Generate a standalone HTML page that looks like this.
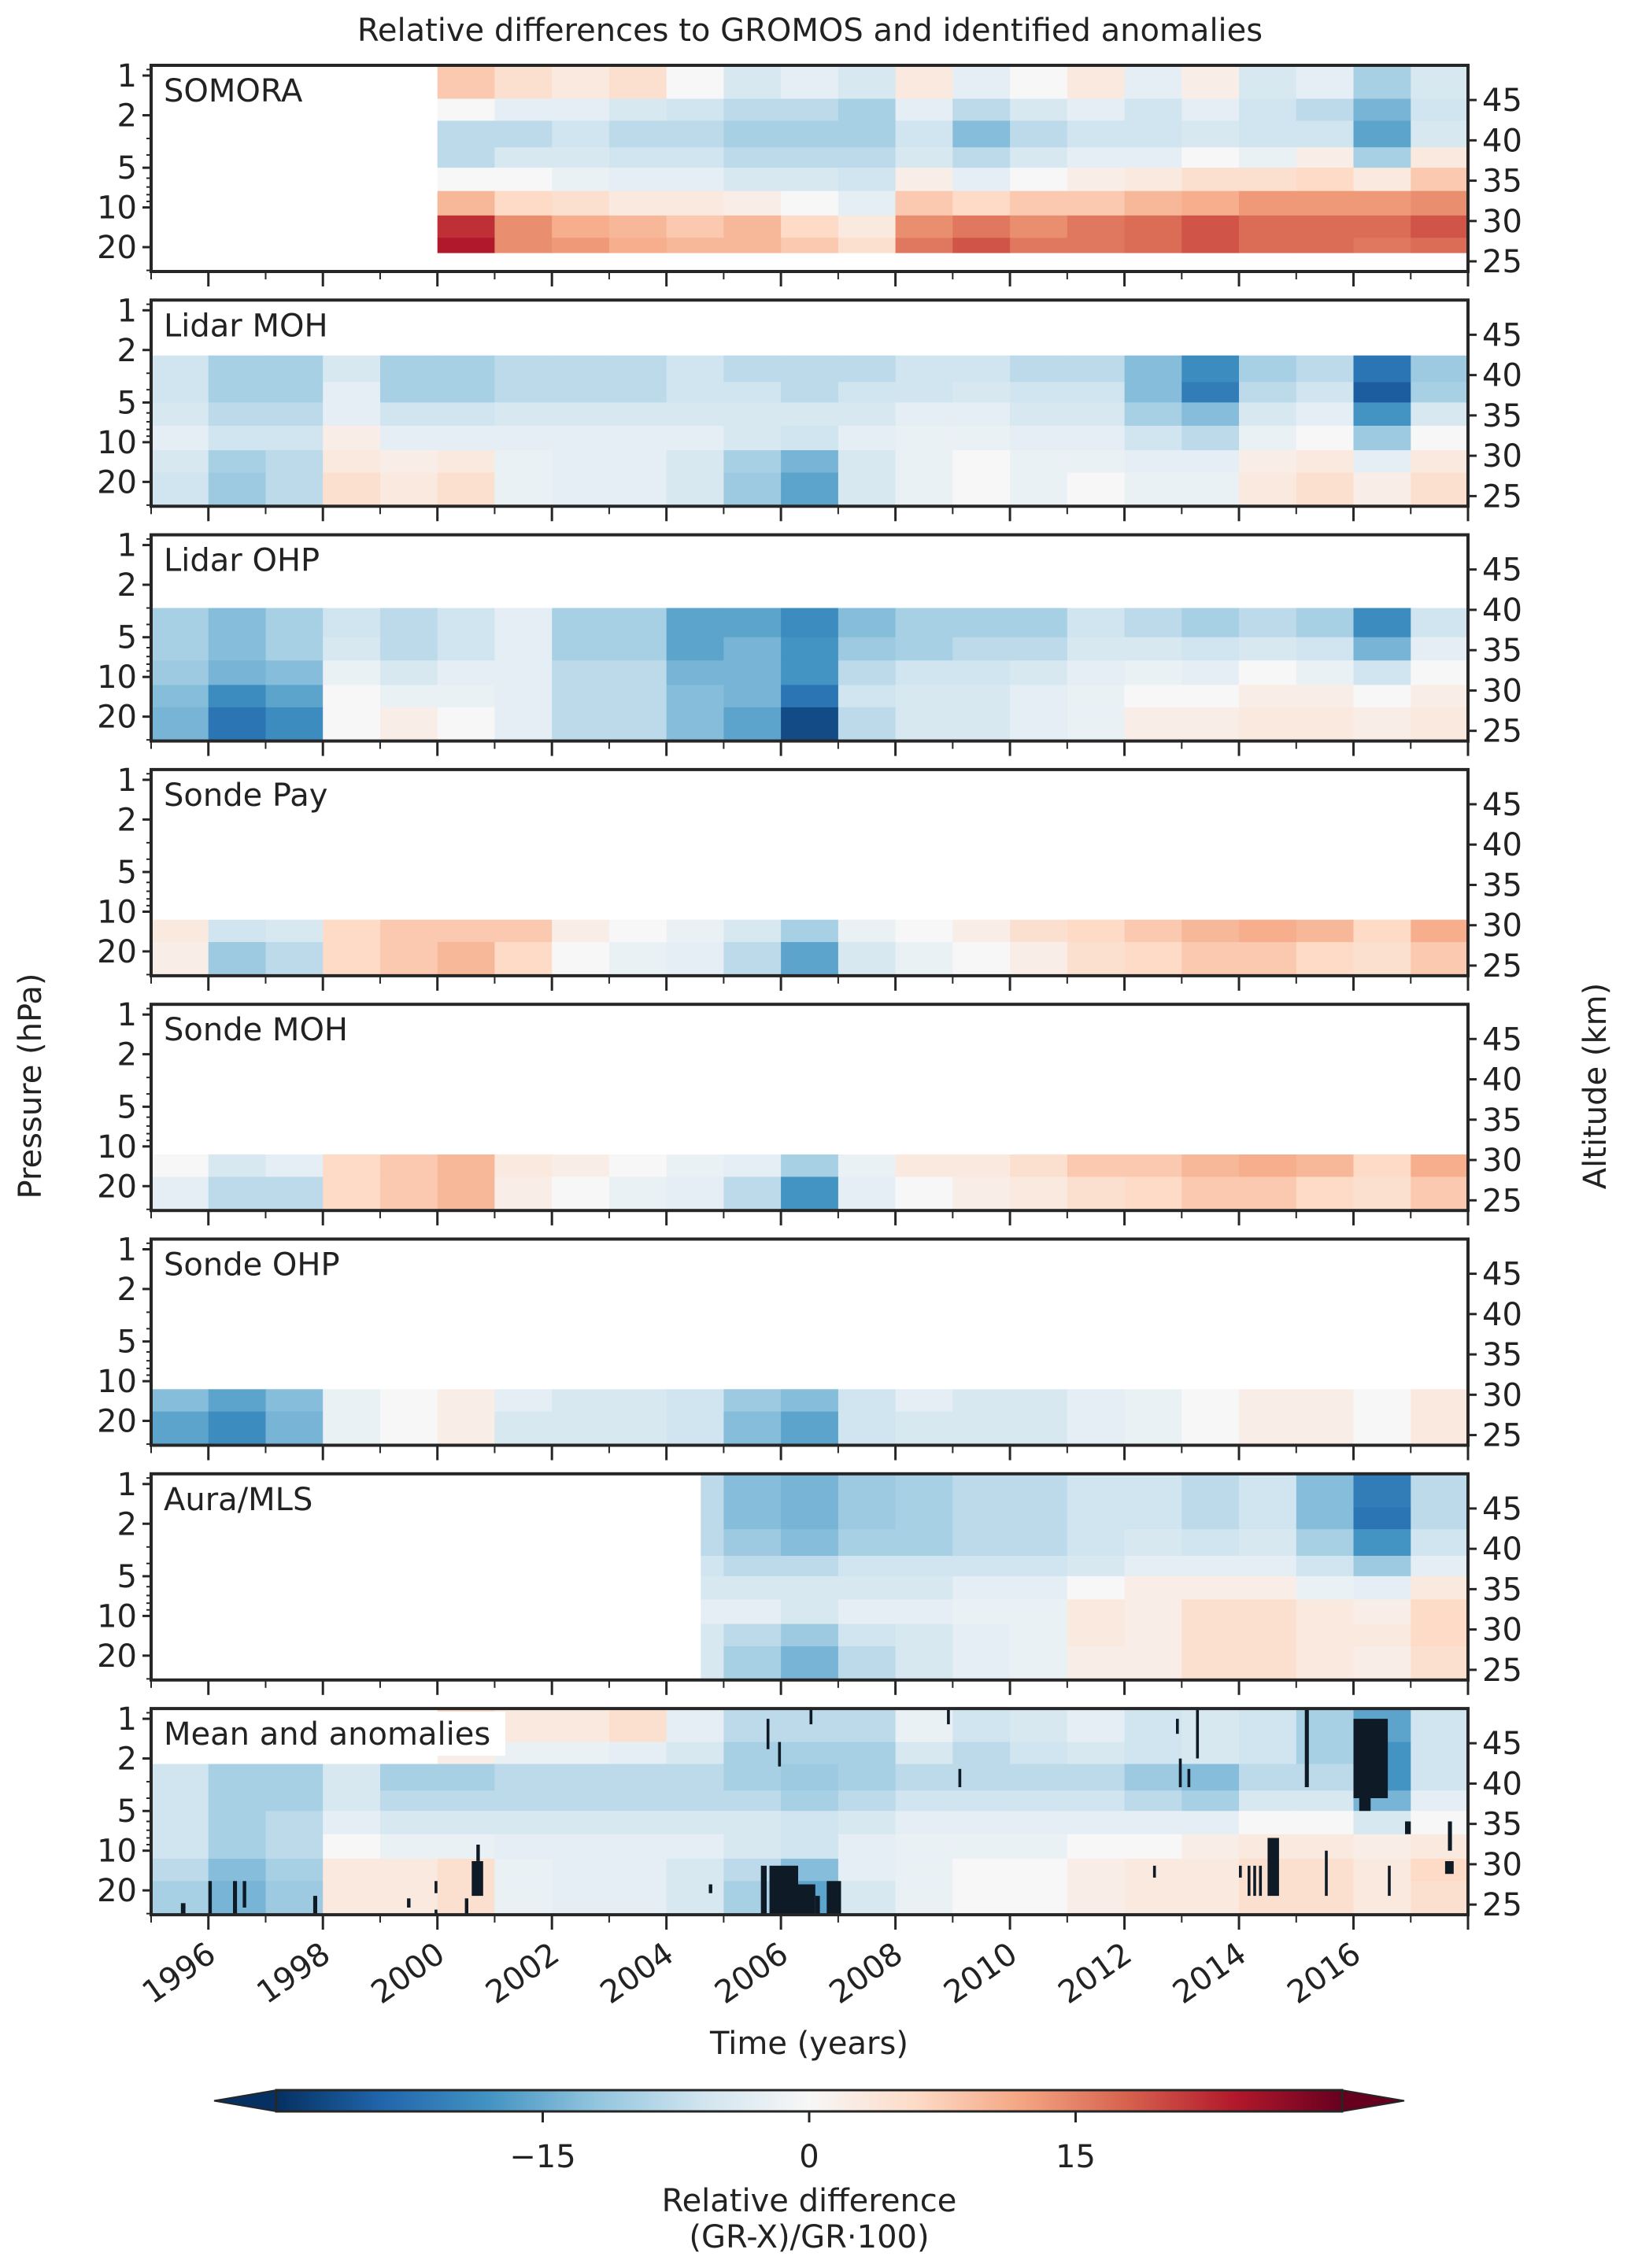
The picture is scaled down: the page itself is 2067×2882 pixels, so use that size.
<!DOCTYPE html>
<html><head><meta charset="utf-8">
<style>
html,body{margin:0;padding:0;background:#fff;}
svg{display:block;font-family:"DejaVu Sans","Liberation Sans",sans-serif;}
</style></head>
<body>
<svg id="fig" width="2067" height="2882" viewBox="0 0 2067 2882" xmlns="http://www.w3.org/2000/svg">
<text x="1029" y="52" font-size="40" text-anchor="middle" fill="#222">Relative differences to GROMOS and identified anomalies</text>
<text transform="translate(52,1380) rotate(-90)" font-size="40" text-anchor="middle" fill="#222">Pressure (hPa)</text>
<text transform="translate(2040,1380) rotate(-90)" font-size="40" text-anchor="middle" fill="#222">Altitude (km)</text>
<text x="1028" y="2610" font-size="40" text-anchor="middle" fill="#222">Time (years)</text>
<g id="panels"></g>
<g id="cbar"></g>
</svg>
<script>
// ---- data ----
const years = [1995,1996,1997,1998,1999,2000,2001,2002,2003,2004,2005,2006,2007,2008,2009,2010,2011,2012,2013,2014,2015,2016,2017];
const panelNames = ["SOMORA","Lidar MOH","Lidar OHP","Sonde Pay","Sonde MOH","Sonde OHP","Aura/MLS","Mean and anomalies"];
const yTickP = [1,2,5,10,20];
const yMinorP = [0.9,3,4,6,7,8,9,30];
const altTicks = [25,30,35,40,45];
const yearTicks = [1996,1998,2000,2002,2004,2006,2008,2010,2012,2014,2016];
const cbarTicks = [-15,0,15];

const somoraEdges = [0.84,1.5,2.2,3.5,5,7.5,11.5,17,22];
const somoraStart = 2000;
const somora = [
[8,5,3,5,0,-5,-3,-5,3,-3,0,3,-3,2,-5,-3,-10,-5],
[0,-3,-3,-5,-6,-8,-8,-10,-3,-8,-5,-3,-6,-3,-6,-8,-14,-6],
[-8,-8,-6,-8,-8,-10,-10,-10,-6,-13,-8,-6,-6,-5,-6,-6,-16,-5],
[-8,-5,-5,-6,-6,-8,-8,-8,-5,-8,-5,-3,-3,0,-2,2,-10,3],
[0,0,-2,-3,-3,-5,-5,-6,2,-3,0,2,3,5,5,6,3,8],
[10,6,5,3,3,2,0,-3,8,6,8,8,10,11,13,13,13,14],
[22,14,11,10,8,10,6,3,14,16,14,16,17,19,17,17,17,19],
[24,14,13,11,10,10,8,5,16,19,16,16,17,19,17,17,16,17]];

const lidarMohEdges = [2.2,3.5,5,7.5,11.5,17,30];
const lidarMoh = [
[-6,-10,-10,-5,-10,-10,-8,-8,-8,-6,-8,-8,-8,-6,-6,-8,-8,-13,-19,-10,-8,-22,-11],
[-6,-10,-10,-3,-10,-10,-8,-8,-8,-6,-6,-8,-6,-6,-5,-6,-6,-13,-21,-8,-6,-25,-10],
[-5,-8,-8,-3,-6,-6,-5,-5,-5,-5,-5,-5,-5,-3,-3,-5,-5,-10,-13,-5,-3,-18,-5],
[-3,-6,-6,2,-3,-3,-3,-3,-3,-3,-5,-6,-3,-2,-2,-3,-3,-6,-8,-2,0,-11,0],
[-5,-10,-8,3,2,3,-2,-3,-3,-5,-10,-14,-5,-2,0,-2,-2,-3,-3,2,3,-3,3],
[-6,-11,-8,5,3,5,-2,-3,-3,-5,-11,-16,-5,-2,0,-2,0,-2,-2,3,5,2,5]];

const lidarOhpEdges = [3,5,7.5,11.5,17,30];
const lidarOhp = [
[-10,-13,-10,-6,-8,-6,-3,-10,-10,-16,-16,-19,-13,-10,-10,-10,-6,-8,-10,-8,-10,-19,-6],
[-10,-13,-10,-5,-8,-6,-3,-10,-10,-16,-14,-18,-11,-10,-8,-8,-5,-5,-6,-5,-6,-14,-3],
[-11,-14,-13,-2,-5,-3,-3,-8,-8,-14,-14,-18,-8,-6,-6,-5,-3,-2,-3,0,-2,-6,0],
[-13,-19,-16,0,-2,-2,-3,-8,-8,-13,-14,-22,-6,-5,-5,-3,-2,0,0,2,2,0,2],
[-14,-22,-19,0,2,0,-3,-8,-8,-13,-16,-27,-8,-5,-5,-3,-2,2,2,3,3,2,3]];

const sondeEdges = [11.5,17,30];
const sondePay = [
[3,-6,-5,6,8,8,8,2,0,-2,-5,-10,-2,0,2,5,6,8,10,11,10,6,11],
[2,-11,-8,6,8,10,6,0,-2,-3,-8,-16,-5,-2,0,2,5,6,8,8,6,5,8]];
const sondeMoh = [
[0,-5,-3,6,8,10,3,2,0,-2,-3,-10,-2,3,3,5,8,8,10,11,10,6,11],
[-3,-8,-8,6,8,10,2,0,-2,-3,-8,-18,-3,0,2,3,5,6,8,8,6,5,8]];
const sondeOhp = [
[-13,-16,-13,-2,0,2,-3,-5,-5,-6,-11,-13,-6,-3,-5,-5,-3,-2,0,2,2,0,3],
[-16,-19,-14,-2,0,2,-5,-5,-5,-6,-13,-16,-6,-5,-5,-5,-3,-2,0,2,2,0,3]];

const fullEdges = [0.84,1.5,2.2,3.5,5,7.5,11.5,17,30];
const mlsStart = 2004.6;
const mls = [
[-8,-13,-14,-11,-10,-8,-8,-6,-6,-8,-6,-13,-21,-8],
[-8,-13,-14,-11,-10,-8,-8,-6,-6,-8,-6,-13,-22,-8],
[-8,-11,-13,-10,-10,-8,-8,-6,-5,-6,-5,-10,-18,-6],
[-6,-8,-8,-6,-6,-6,-6,-5,-3,-3,-3,-6,-11,-3],
[-5,-5,-5,-5,-5,-3,-3,0,2,2,2,-2,-3,3],
[-3,-3,-5,-3,-3,-2,-2,3,2,5,5,3,2,6],
[-5,-8,-11,-6,-5,-3,-2,3,2,5,5,3,3,6],
[-5,-10,-14,-8,-5,-3,-2,2,2,5,5,3,2,5]];

const meanTop = [
[6,3,3,5,-3,-8,-8,-8,-2,-6,-5,-3,-6,-5,-6,-10,-16,-6],
[2,-2,-2,-3,-5,-10,-10,-10,-5,-8,-6,-5,-6,-5,-6,-10,-18,-6]];
const meanLow = [
[-6,-10,-10,-5,-10,-10,-8,-8,-8,-8,-10,-11,-10,-8,-8,-8,-8,-11,-13,-8,-8,-18,-6],
[-6,-10,-10,-5,-8,-8,-8,-8,-8,-8,-8,-10,-8,-6,-6,-6,-6,-8,-10,-5,-5,-14,-3],
[-6,-10,-8,-3,-5,-5,-5,-5,-5,-5,-5,-6,-5,-3,-3,-3,-3,-3,-3,0,0,-5,0],
[-6,-10,-8,0,-2,-2,-3,-3,-3,-3,-5,-6,-3,-2,-2,-2,0,0,2,3,3,2,3],
[-8,-13,-10,3,3,5,-2,-3,-3,-5,-8,-13,-3,-2,0,0,2,3,3,5,5,3,6],
[-10,-14,-11,3,3,5,-2,-3,-3,-5,-10,-16,-5,-2,0,0,2,3,3,5,5,3,5]];

const anomalyT0 = [1995.52,1996.0,1996.43,1996.6,1997.83,1999.47,1999.95,1999.95,2000.48,2000.6,2000.68,2004.74,2005.65,2005.8,2006.3,2006.6,2006.8,2005.75,2005.95,2006.5,2008.9,2009.1,2012.9,2012.95,2013.1,2013.25,2015.15,2016.0,2016.1,2016.9,2017.65,2017.6,2012.5,2014.0,2014.15,2014.25,2014.35,2014.5,2015.5,2016.6];
const anomalyT1 = [1995.6,1996.06,1996.5,1996.66,1997.9,1999.53,2000.0,2000.0,2000.54,2000.8,2000.74,2004.8,2005.75,2006.3,2006.6,2006.68,2007.05,2005.8,2006.0,2006.55,2008.95,2009.15,2012.95,2013.0,2013.15,2013.3,2015.22,2016.6,2016.3,2017.0,2017.72,2017.75,2012.55,2014.05,2014.2,2014.3,2014.4,2014.7,2015.55,2016.65];
const anomalyPTop = [25,17,17,17,22,23,17,28,23,12,9,18,13,13,18,22,17,1.0,1.5,0.85,0.85,2.4,1.0,2.0,2.4,0.84,0.84,1.0,4,6,6,12,13,13,13,13,13,8,10,13];
const anomalyPBot = [30,30,30,27,30,27,21,30,30,22,12,21,30,30,30,30,30,1.7,2.3,1.1,1.1,3.3,1.3,3.3,3.3,2.0,3.3,4.0,5,7.5,10,15,16,16,22,22,22,22,22,22];

// ---- layout ----
const X0=192, X1=1865, T0=1995, T1=2018;
const PTOP=83, PSTEP=298.3, PH=262;
const NS="http://www.w3.org/2000/svg";
function xs(t){return X0+(t-T0)/(T1-T0)*(X1-X0);}
function ys(top,p){return top+13+Math.log10(p)*167.6;}
function ya(top,km){return top+(49.3-km)*10.25;}
const cm=['#053061','#2166ac','#4393c3','#92c5de','#d1e5f0','#f7f7f7','#fddbc7','#f4a582','#d6604d','#b2182b','#67001f'];
function hex(h){return [1,3,5].map(i=>parseInt(h.substr(i,2),16));}
function color(v){let t=Math.max(0,Math.min(1,(v+30)/60))*10;let i=Math.min(9,Math.floor(t));let f=t-i;
 let a=hex(cm[i]),b=hex(cm[i+1]);return 'rgb('+a.map((c,k)=>Math.round(c+(b[k]-c)*f)).join(',')+')';}
function el(tag,attrs,parent){const e=document.createElementNS(NS,tag);for(const k in attrs)e.setAttribute(k,attrs[k]);parent.appendChild(e);return e;}

const root=document.getElementById('panels');
function drawGrid(g,top,edges,rows,startYear,clipStart){
  rows.forEach((row,r)=>{
    row.forEach((v,c)=>{
      if(v===null)return;
      let t0=startYear+c,t1=t0+1;
      if(clipStart!==undefined)t0=Math.max(t0,clipStart);
      t1=Math.min(t1,T1);
      const y0=ys(top,edges[r]),y1=ys(top,edges[r+1]);
      const rc=el('rect',{x:xs(t0).toFixed(1),y:y0.toFixed(1),width:(xs(t1)-xs(t0)+0.6).toFixed(1),height:(y1-y0+0.6).toFixed(1),fill:color(v)},g);
      
      
    });
  });
}
const panelData=[
 [[somoraEdges,somora,somoraStart]],
 [[lidarMohEdges,lidarMoh,1995]],
 [[lidarOhpEdges,lidarOhp,1995]],
 [[sondeEdges,sondePay,1995]],
 [[sondeEdges,sondeMoh,1995]],
 [[sondeEdges,sondeOhp,1995]],
 [[fullEdges,mls,2004,mlsStart]],
 [[fullEdges.slice(0,3),meanTop,2000],[fullEdges.slice(2),meanLow,1995]]
];
panelNames.forEach((name,i)=>{
  const top=PTOP+i*PSTEP, bot=top+PH;
  const g=el('g',{},root);
  
  
  const cid='clip'+i;
  const cp=el('clipPath',{id:cid},g);
  el('rect',{x:X0,y:top,width:X1-X0,height:PH},cp);
  const hg=el('g',{'clip-path':'url(#'+cid+')'},g);
  panelData[i].forEach(d=>drawGrid(hg,top,d[0],d[1],d[2],d[3]));
  if(i===7){
    anomalyT0.forEach((t0,k)=>{
      const y0=ys(top,anomalyPTop[k]),y1=ys(top,anomalyPBot[k]);
      const a=el('rect',{x:xs(t0).toFixed(1),y:y0.toFixed(1),width:Math.max(3,xs(anomalyT1[k])-xs(t0)).toFixed(1),height:(y1-y0).toFixed(1),fill:'#0e1a26'},hg);
      
      
    });
  }
  // label
  const lw=name.length*24+14;
  if(i===0||i===7){el('rect',{x:X0+4,y:top+4,width:lw,height:56,fill:'#fff'},g);}
  const lt=el('text',{x:X0+16,y:top+46,'font-size':40,fill:'#222'},g);
  lt.textContent=name;
  
  
  // frame
  el('rect',{x:X0,y:top,width:X1-X0,height:PH,fill:'none',stroke:'#262626','stroke-width':4},g);
  // left ticks
  yTickP.forEach(p=>{const y=ys(top,p);el('line',{x1:X0-11,x2:X0,y1:y,y2:y,stroke:'#262626','stroke-width':3},g);
    const t=el('text',{x:X0-18,y:y+14,'font-size':40,'text-anchor':'end',fill:'#222'},g);t.textContent=p;
    
    });
  yMinorP.forEach(p=>{const y=ys(top,p);if(y<top||y>bot)return;el('line',{x1:X0-6,x2:X0,y1:y,y2:y,stroke:'#262626','stroke-width':2},g);});
  altTicks.forEach(k=>{const y=ya(top,k);el('line',{x1:X1,x2:X1+11,y1:y,y2:y,stroke:'#262626','stroke-width':3},g);
    const t=el('text',{x:X1+18,y:y+14,'font-size':40,fill:'#222'},g);t.textContent=k;
    
    });
  years.concat([2018]).forEach(yr=>{const x=xs(yr);const major=yr%2===0;
    el('line',{x1:x,x2:x,y1:bot,y2:bot+(major?19:10),stroke:'#262626','stroke-width':major?3:2},g);});
  if(i===7){
    yearTicks.forEach(yr=>{const x=xs(yr);
      const t=el('text',{transform:'translate('+(x+12)+','+(bot+56)+') rotate(-35)','font-size':40,'text-anchor':'end',fill:'#222'},g);
      t.textContent=yr;
      
      });
  }
});
// colorbar
const cb=document.getElementById('cbar');


const CB0=351,CB1=1705,CBY=2656,CBH=27;
const defs=el('defs',{},cb);
const lg=el('linearGradient',{id:'cbg',x1:0,x2:1,y1:0,y2:0},defs);
cm.forEach((c,k)=>el('stop',{offset:(k/10),'stop-color':c},lg));
el('polygon',{points:`${CB0},${CBY} ${CB0},${CBY+CBH} 272,${CBY+CBH/2}`,fill:'#053061',stroke:'#262626','stroke-width':2},cb);
el('polygon',{points:`${CB1},${CBY} ${CB1},${CBY+CBH} 1784,${CBY+CBH/2}`,fill:'#67001f',stroke:'#262626','stroke-width':2},cb);
el('rect',{x:CB0,y:CBY,width:CB1-CB0,height:CBH,fill:'url(#cbg)',stroke:'#262626','stroke-width':3},cb);
function xc(v){return CB0+(v+30)/60*(CB1-CB0);}
cbarTicks.forEach(v=>{const x=xc(v);el('line',{x1:x,x2:x,y1:CBY+CBH,y2:CBY+CBH+14,stroke:'#262626','stroke-width':3},cb);
  const t=el('text',{x:x,y:CBY+98,'font-size':40,'text-anchor':'middle',fill:'#222'},cb);t.textContent=v<0?'\u2212'+Math.abs(v):v;
  
  });
const c1=el('text',{x:1028,y:2810,'font-size':40,'text-anchor':'middle',fill:'#222'},cb);c1.textContent='Relative difference';


const c2=el('text',{x:1028,y:2856,'font-size':40,'text-anchor':'middle',fill:'#222'},cb);c2.textContent='(GR-X)/GR\u00b7100)';


</script>
</body></html>
